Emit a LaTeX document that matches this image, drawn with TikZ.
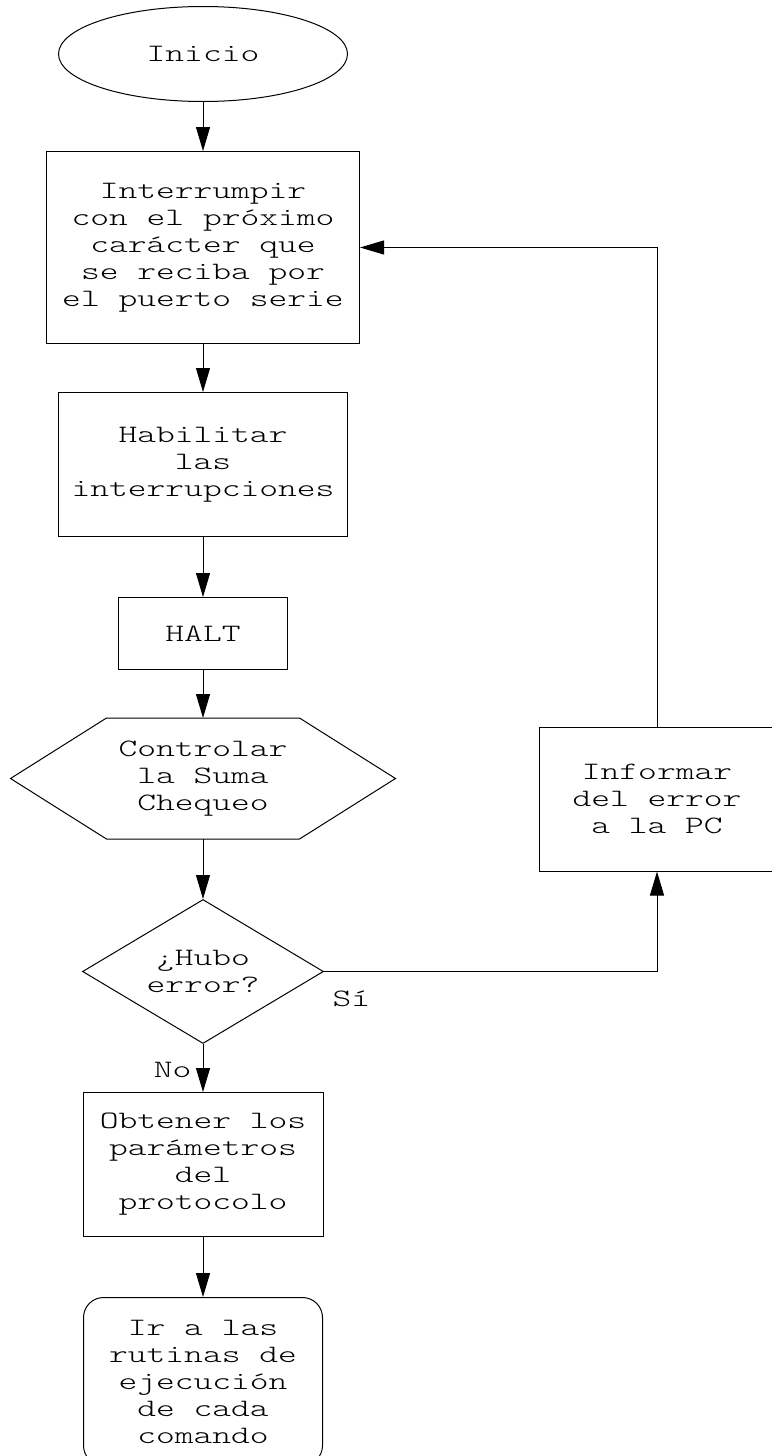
\documentclass[tikz,border=0pt]{standalone}
\usepackage{fontspec}
\newfontfamily\flowfont{lmmonolt10-regular.otf}[FakeStretch=1.43]
\usetikzlibrary{arrows.meta, positioning, shapes.geometric}

\begin{document}
\begin{tikzpicture}[
      base/.style={draw, line width=1pt, align=center, inner sep=0pt,
                   font=\flowfont\fontsize{25pt}{27pt}\selectfont},
      box/.style={base, rectangle},
      sm/.style={font=\flowfont\fontsize{25pt}{27pt}\selectfont, inner sep=0pt},
      ar/.style={-{Triangle[length=24pt, width=14pt]}, line width=1pt}
    ]
    \useasboundingbox (0,0) rectangle (771pt,-1456pt);

    \node[base, ellipse, minimum width=289pt, minimum height=95pt] (start) at (203pt,-54pt) {Inicio};
    \node[box, minimum width=313pt, minimum height=192pt, below=49pt of start] (espera)
        {Interrumpir\\con el próximo\\carácter que\\se reciba por\\el puerto serie};
    \node[box, minimum width=289pt, minimum height=144pt, below=48pt of espera] (habil)
        {Habilitar\\las\\interrupciones};
    \node[box, minimum width=169pt, minimum height=72pt, below=60pt of habil] (halt) {HALT};
    \node[base, draw=none, minimum width=384pt, minimum height=120pt, below=48pt of halt] (chk)
        {Controlar\\la Suma\\Chequeo};
    \draw[line width=1pt] (chk.west) -- ([xshift=96pt]chk.north west) -- ([xshift=-96pt]chk.north east)
        -- (chk.east) -- ([xshift=-96pt]chk.south east) -- ([xshift=96pt]chk.south west) -- cycle;
    \node[base, diamond, aspect=1.67, minimum width=241pt, minimum height=144pt, below=60pt of chk] (hubo)
        {¿Hubo\\error?};
    \node[box, minimum width=240pt, minimum height=144pt, below=48pt of hubo] (obt)
        {Obtener los\\parámetros\\del\\protocolo};
    \node[box, rounded corners=20pt, minimum width=239pt, minimum height=168pt, below=60pt of obt] (fin)
        {Ir a las\\rutinas de\\ejecución\\de cada\\comando};

    % rama de error
    \node[box, minimum width=236pt, minimum height=144pt] (info) at (657pt,-799pt)
        {Informar\\del error\\a la PC};

    \draw[ar] (start) -- (espera);
    \draw[ar] (espera) -- (habil);
    \draw[ar] (habil) -- (halt);
    \draw[ar] (halt) -- (chk);
    \draw[ar] (chk) -- (hubo);
    \draw[ar] (hubo) -- node[sm, pos=0, anchor=base east, xshift=-11pt, yshift=-33pt]{No} (obt);
    \draw[ar] (obt) -- (fin);
    \draw[ar] (hubo.east) -| node[sm, pos=0, anchor=base west, xshift=8pt, yshift=-35pt]{Sí} (info.south);
    \draw[ar] (info.north) |- (espera.east);
  \end{tikzpicture}
\end{document}
